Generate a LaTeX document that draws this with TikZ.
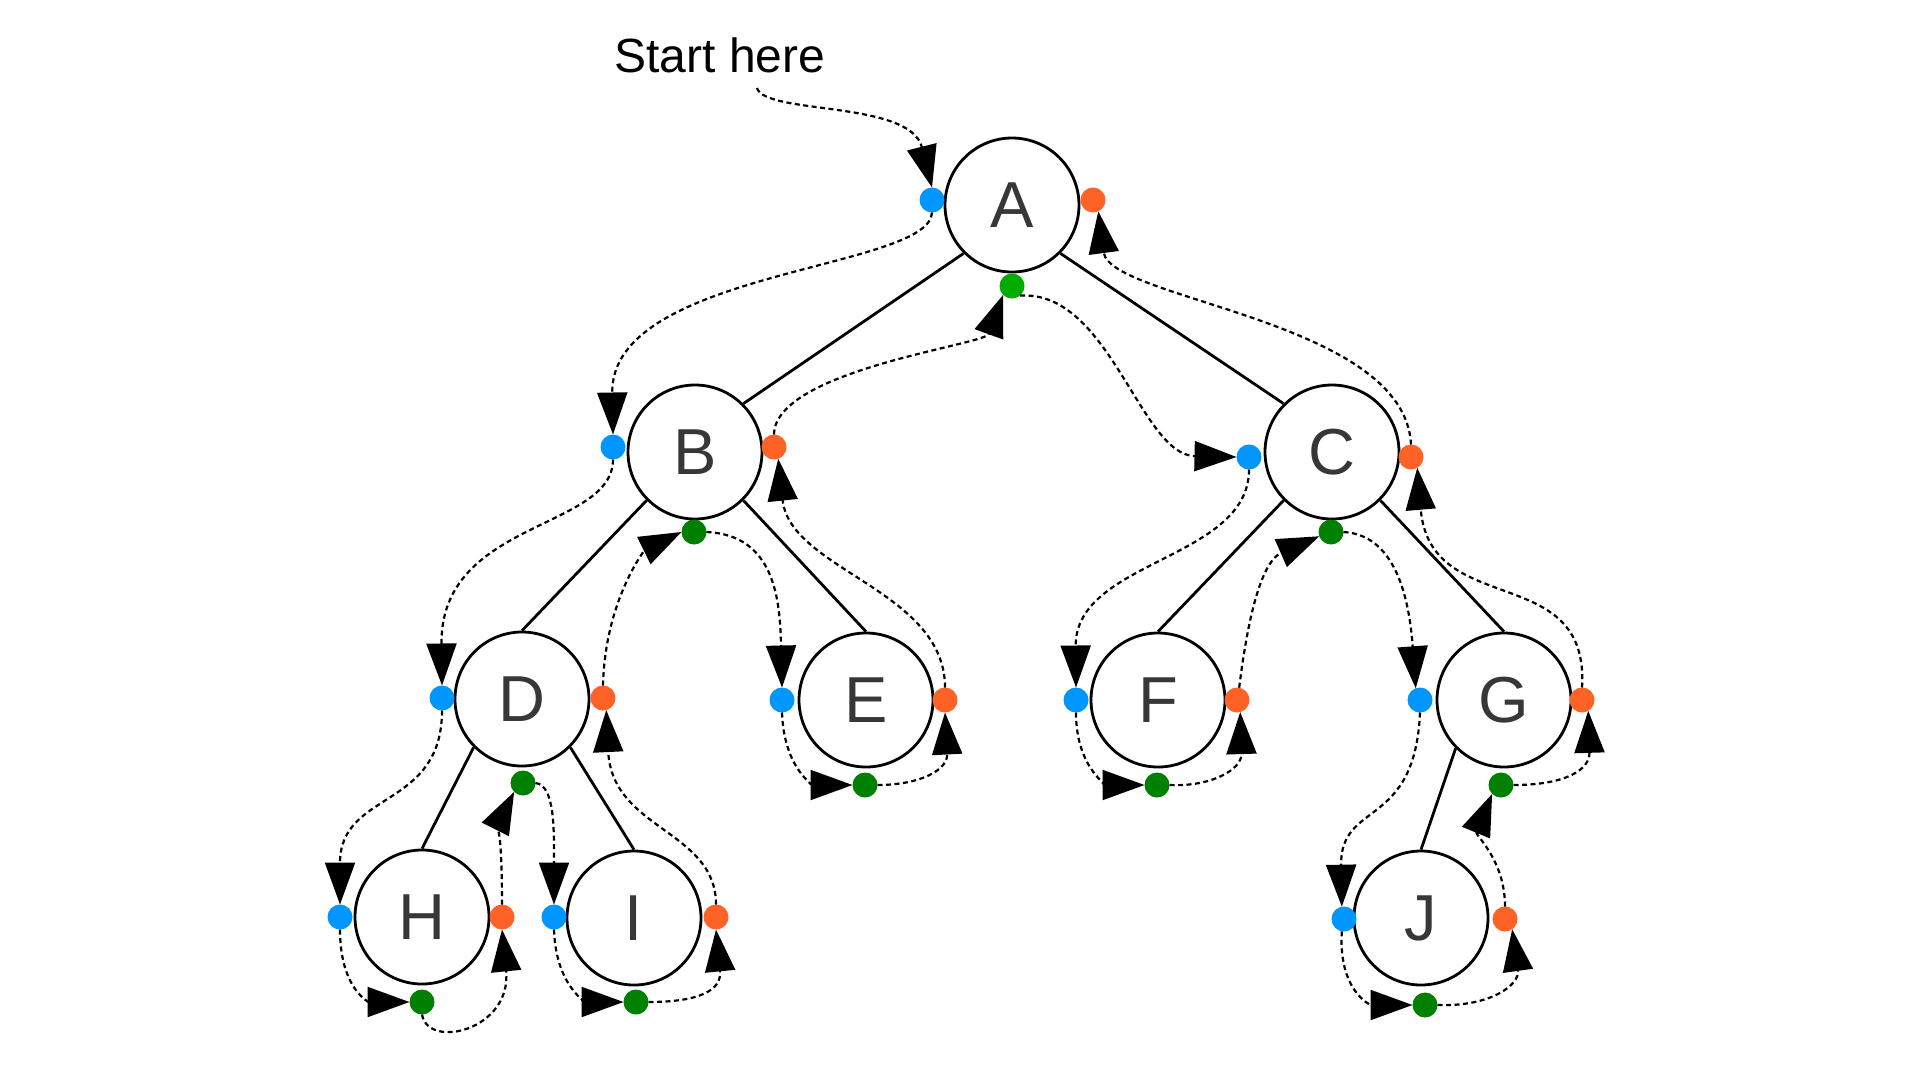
\documentclass[tikz,border=0pt]{standalone}
\usepackage{fontspec}
\setmainfont{Liberation Sans}
\usetikzlibrary{arrows.meta}
\definecolor{preblue}{RGB}{0,150,255}
\definecolor{postorange}{RGB}{255,98,38}
\definecolor{ingreen}{RGB}{0,128,0}
\definecolor{rootgreen}{RGB}{0,172,0}
\definecolor{letter}{RGB}{55,55,58}
\begin{document}
\begin{tikzpicture}[x=1pt,y=-1pt,
  vertex/.style={circle, draw=black, line width=2.8pt, fill=white,
    minimum size=134pt, inner sep=0pt, text=letter,
    font=\fontsize{65}{65}\selectfont},
  dotbase/.style={circle, minimum size=25pt, inner sep=0pt, outer sep=0pt},
  dotpre/.style={dotbase, fill=preblue},
  dotpost/.style={dotbase, fill=postorange},
  dotin/.style={dotbase, fill=ingreen},
  link/.style={line width=2.8pt, draw=black},
  walk/.style={line width=2.2pt, dash pattern=on 5pt off 3.5pt,
    -{Triangle[length=42pt,width=30pt]}},
  caption/.style={font=\fontsize{48}{48}\selectfont, text=black, inner sep=0pt, anchor=base}
]
% canvas
\fill[white, use as bounding box] (0,0) rectangle (1920,1080);

% tree nodes
\node[vertex] (A) at (1012,205) {A};
\node[vertex] (B) at (695,452) {B};
\node[vertex] (C) at (1332,452) {C};
\node[vertex] (D) at (522,699) {D};
\node[vertex] (E) at (866,700) {E};
\node[vertex] (F) at (1158,700) {F};
\node[vertex] (G) at (1504,700) {G};
\node[vertex] (H) at (422,917) {H};
\node[vertex] (I) at (634,918) {I};
\node[vertex] (J) at (1421,918) {J};

% tree edges
\draw[link] (A.south west) -- (B.north east);
\draw[link] (A.south east) -- (C.north west);
\draw[link] (B.south west) -- (D.north);
\draw[link] (B.south east) -- (E.north);
\draw[link] (C.south west) -- (F.north);
\draw[link] (C.south east) -- (G.north);
\draw[link] (D.south west) -- (H.north);
\draw[link] (D.south east) -- (I.north);
\draw[link] (G.south west) -- (J.north);

% visit markers: pre (left), in (bottom), post (right)
\node[dotpre] (Ab) at (932,200) {};
\node[dotpost] (Ao) at (1093,200) {};
\node[dotbase, fill=rootgreen] (Ag) at (1012,286) {};
\node[dotpre] (Bb) at (613,447) {};
\node[dotpost] (Bo) at (774,447) {};
\node[dotin] (Bg) at (694,532) {};
\node[dotpre] (Cb) at (1249,457) {};
\node[dotpost] (Co) at (1411,457) {};
\node[dotin] (Cg) at (1331,532) {};
\node[dotpre] (Db) at (442,698) {};
\node[dotpost] (Do) at (603,698) {};
\node[dotin] (Dg) at (523,783) {};
\node[dotpre] (Eb) at (782,700) {};
\node[dotpost] (Eo) at (945,700) {};
\node[dotin] (Eg) at (865,785) {};
\node[dotpre] (Fb) at (1076,700) {};
\node[dotpost] (Fo) at (1237,700) {};
\node[dotin] (Fg) at (1157,785) {};
\node[dotpre] (Gb) at (1420,700) {};
\node[dotpost] (Go) at (1582,700) {};
\node[dotin] (Gg) at (1501,785) {};
\node[dotpre] (Hb) at (340,917) {};
\node[dotpost] (Ho) at (502,917) {};
\node[dotin] (Hg) at (422,1002) {};
\node[dotpre] (Ib) at (554,917) {};
\node[dotpost] (Io) at (716,917) {};
\node[dotin] (Ig) at (636,1002) {};
\node[dotpre] (Jb) at (1344,919) {};
\node[dotpost] (Jo) at (1505,919) {};
\node[dotin] (Jg) at (1425,1005) {};

% label and entry
\node[caption] (start label) at (720,72) {Start here};
\coordinate (S) at (757,88);

% Euler walk around the tree
\draw[walk] (S) .. controls (765,115) and (910,100) .. (Ab.north);
\draw[walk] (Ab.south) .. controls (930,270) and (610,270) .. (Bb.north);
\draw[walk] (Bb.south) .. controls (613,530) and (440,520) .. (Db.north);
\draw[walk] (Db.south) .. controls (442,810) and (340,790) .. (Hb.north);
\draw[walk] (Hb.south) .. controls (340,990) and (370,1002) .. (Hg.west);
\draw[walk] (Hg.south) .. controls (428,1050) and (512,1030) .. (Ho.south);
\draw[walk] (Ho.north) .. controls (502,860) and (500,820) .. (Dg.south west);
\draw[walk] (Dg.east) .. controls (555,785) and (554,830) .. (Ib.north);
\draw[walk] (Ib.south) .. controls (556,990) and (590,1002) .. (Ig.west);
\draw[walk] (Ig.east) .. controls (700,1002) and (722,990) .. (Io.south);
\draw[walk] (Io.north) .. controls (716,830) and (612,830) .. (Do.-75);
\draw[walk] (Do.north) .. controls (605,600) and (645,550) .. (Bg.west);
\draw[walk] (Bg.east) .. controls (775,535) and (780,600) .. (Eb.north);
\draw[walk] (Eb.south) .. controls (784,770) and (815,785) .. (Eg.west);
\draw[walk] (Eg.east) .. controls (920,785) and (948,770) .. (Eo.south);
\draw[walk] (Eo.north) .. controls (945,590) and (790,570) .. (Bo.-70);
\draw[walk] (Bo.north) .. controls (775,370) and (985,345) .. (Ag.south west);
\draw[walk] (Ag.-50) .. controls (1110,290) and (1140,455) .. (Cb.west);
\draw[walk] (Cb.south) .. controls (1249,560) and (1075,560) .. (Fb.north);
\draw[walk] (Fb.south) .. controls (1076,770) and (1110,785) .. (Fg.west);
\draw[walk] (Fg.east) .. controls (1210,787) and (1242,770) .. (Fo.-75);
\draw[walk] (Fo.80) .. controls (1250,600) and (1265,560) .. (Cg.200);
\draw[walk] (Cg.east) .. controls (1400,535) and (1410,610) .. (Gb.110);
\draw[walk] (Gb.south) .. controls (1415,830) and (1340,800) .. (Jb.100);
\draw[walk] (Jb.260) .. controls (1338,990) and (1370,1005) .. (Jg.west);
\draw[walk] (Jg.east) .. controls (1490,1007) and (1520,985) .. (Jo.-55);
\draw[walk] (Jo.north) .. controls (1505,860) and (1475,835) .. (Gg.south west);
\draw[walk] (Gg.east) .. controls (1565,785) and (1590,770) .. (Go.-60);
\draw[walk] (Go.north) .. controls (1590,560) and (1430,620) .. (Co.-60);
\draw[walk] (Co.north) .. controls (1405,320) and (1110,300) .. (Ao.-65);
\end{tikzpicture}
\end{document}
